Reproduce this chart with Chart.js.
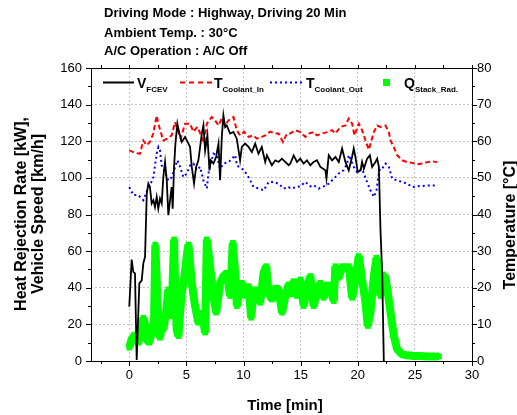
<!DOCTYPE html>
<html>
<head>
<meta charset="utf-8">
<script src="https://cdn.jsdelivr.net/npm/chart.js@4.4.1/dist/chart.umd.min.js"></script>
<style>
  body { margin: 0; background: #fff; }
  #wrap { position: relative; width: 517px; height: 415px; font-family: 'Liberation Sans', Arial, sans-serif; color: #000; }
  #wrap canvas { position: absolute; left: 0; top: 0; }
  .txt { position: absolute; white-space: nowrap; font-weight: bold; line-height: 1; }
  .head { font-size: 13px; left: 104px; }
  .leg { position: absolute; white-space: nowrap; font-weight: bold; line-height: 1; font-size: 14px; }
  .leg .sub { font-size: 8px; position: relative; top: 4px; }
  .rot { position: absolute; white-space: nowrap; font-weight: bold; font-size: 16px; text-align: center;
         line-height: 17px; transform: translate(-50%, -50%) rotate(-90deg); }
  #legSvg { position: absolute; left: 0; top: 0; }
</style>
</head>
<body>
<div id="wrap">
  <canvas id="chart" width="517" height="415"></canvas>

  <div class="txt head" style="top:6px">Driving Mode : Highway, Driving 20 Min</div>
  <div class="txt head" style="top:26px">Ambient Temp. : 30°C</div>
  <div class="txt head" style="top:44px">A/C Operation : A/C Off</div>

  <svg id="legSvg" width="517" height="415">
    <line x1="103" y1="82.5" x2="134" y2="82.5" stroke="#000" stroke-width="2"/>
    <line x1="180" y1="82.5" x2="212" y2="82.5" stroke="#ff0000" stroke-width="2" stroke-dasharray="5 4"/>
    <line x1="270" y1="82.5" x2="302" y2="82.5" stroke="#0000ff" stroke-width="2" stroke-dasharray="2 3"/>
    <rect x="383" y="79" width="7" height="7" fill="#00ff00"/>
  </svg>
  <div class="leg" style="left:137px; top:76px">V<span class="sub">FCEV</span></div>
  <div class="leg" style="left:214px; top:76px">T<span class="sub">Coolant_In</span></div>
  <div class="leg" style="left:306px; top:76px">T<span class="sub">Coolant_Out</span></div>
  <div class="leg" style="left:404px; top:76px">Q<span class="sub">Stack_Rad.</span></div>

  <div class="rot" style="left:29px; top:214px">Heat Rejection Rate [kW],<br>Vehicle Speed [km/h]</div>
  <div class="rot" style="left:509px; top:225px">Temperature [°C]</div>
  <div class="txt" style="left:285px; top:397px; font-size:15px; transform:translateX(-50%)">Time [min]</div>
</div>

<script>
// vehicle speed (km/h), left axis
const vTime = [
  0, 0.21, 0.35, 0.5, 0.65, 0.88, 1.09, 1.23, 1.38, 1.53,
  1.67, 1.81, 1.96, 2.11, 2.25, 2.4, 2.54, 2.69, 2.84, 2.98,
  3.13, 3.28, 3.42, 3.57, 3.71, 3.8, 3.92, 4.04, 4.21, 4.39,
  4.59, 4.88, 5.18, 5.32, 5.47, 5.67, 5.85, 6.05, 6.35, 6.49,
  6.64, 6.84, 7.02, 7.13, 7.37, 7.6, 7.81, 7.95, 8.1, 8.24,
  8.39, 8.53, 8.83, 9.12, 9.41, 9.7, 9.85, 10.14, 10.44, 10.73,
  11.02, 11.31, 11.6, 11.9, 12.05, 12.48, 12.78, 13.07, 13.36, 13.65,
  13.95, 14.1, 14.39, 14.68, 14.97, 15.26, 15.55, 15.85, 16.14, 16.43,
  16.73, 17.17, 17.26, 17.46, 17.75, 18.05, 18.34, 18.63, 18.92, 19.21,
  19.5, 19.65, 19.8, 20.0, 20.24, 20.38, 20.53, 20.82, 21.06, 21.26,
  21.55, 21.7, 21.85, 21.99, 22.14, 22.28
];
const vSpeed = [
  29.6, 55.4, 48.7, 47.8, 0.5, 42.4, 44, 53.3, 56.9, 91.4,
  96.9, 95, 86, 87.8, 84.1, 89.6, 83.2, 88.7, 86, 100.5,
  108.7, 98.7, 79.6, 87.8, 95, 83.2, 106, 118.7, 129.6, 124.2,
  119.6, 122.3, 118.7, 116.9, 106, 96.9, 106, 109.6, 124.2, 128.7,
  115, 123.2, 104.1, 109.6, 107.8, 111.4, 118.7, 98.7, 122.3, 134.1,
  127.8, 128.7, 124.2, 125.1, 121.4, 109.6, 116.9, 118.7, 116.9, 114.1,
  118.7, 113.2, 116.9, 108.7, 112.3, 106.9, 109.6, 108.7, 110.5, 108.7,
  106.9, 107.8, 112.3, 108.7, 110.5, 107.8, 109.6, 106.9, 108.7, 109.6,
  106, 104.1, 99.6, 112.3, 109.6, 111.4, 108.7, 116, 108.7, 104.1,
  111.4, 116, 111.4, 103.2, 104.1, 108.7, 105, 110.5, 112.3, 106,
  108.7, 110.5, 106, 71.4, 47.8, 0
];

// coolant inlet temperature (°C), right axis
const tInTime = [
  0, 0.5, 0.94, 1.23, 1.52, 1.81, 2.1, 2.4, 2.54, 2.75,
  2.98, 3.33, 3.71, 4.0, 4.21, 4.5, 4.88, 5.32, 5.61, 5.96,
  6.35, 6.55, 6.79, 7.22, 7.51, 7.81, 8.1, 8.39, 8.68, 9.12,
  9.41, 9.7, 10.05, 10.44, 10.87, 11.17, 11.6, 11.9, 12.34, 12.78,
  13.07, 13.45, 13.8, 14.09, 14.53, 14.97, 15.41, 15.7, 16.14, 16.43,
  16.87, 17.31, 17.75, 18.04, 18.48, 18.92, 19.21, 19.51, 19.71, 20.09,
  20.38, 20.68, 20.97, 21.41, 21.7, 21.99, 22.43, 22.72, 22.87, 23.16,
  23.45, 23.89, 24.33, 24.77, 25.21, 25.65, 26.09, 26.53, 26.96
];
const tIn = [
  57.5, 56.8, 56.6, 60.2, 58.9, 59.8, 62.1, 67, 64.8, 62.6,
  60.2, 60.7, 61.6, 65.2, 63.4, 60.7, 64.8, 64.8, 62.6, 63.9,
  61.2, 59.4, 64.8, 66.6, 65.7, 64.3, 66.2, 64.3, 65.7, 66.6,
  63, 61.6, 62.6, 61.2, 61.6, 60.7, 61.2, 61.6, 62.6, 62.1,
  62.1, 59.8, 62.1, 62.1, 63.0, 62.5, 61.2, 62.1, 62.5, 61.6,
  62.1, 62.5, 63.0, 62.1, 63.9, 64.3, 66.2, 64.8, 61.6, 64.8,
  63.0, 60.2, 57.7, 62.5, 64.3, 63.9, 64.3, 62.5, 60.2, 58.4,
  56.2, 54.8, 54.3, 54.1, 53.7, 53.9, 54.3, 54.5, 54.3
];

// coolant outlet temperature (°C), right axis
const tOutTime = [
  0, 0.35, 0.79, 1.23, 1.52, 1.82, 2.11, 2.25, 2.4, 2.55,
  2.69, 2.84, 3.13, 3.42, 3.72, 4.01, 4.21, 4.45, 4.74, 5.03,
  5.32, 5.62, 5.91, 6.2, 6.49, 6.79, 6.93, 7.08, 7.37, 7.66,
  7.95, 8.25, 8.69, 9.13, 9.27, 9.42, 9.86, 10.15, 10.44, 10.88,
  11.32, 11.76, 12.2, 12.63, 13.07, 13.51, 13.95, 14.09, 14.53, 14.97,
  15.41, 15.85, 16.14, 16.58, 17.02, 17.46, 17.9, 18.34, 18.77, 19.07,
  19.21, 19.42, 19.65, 19.95, 20.38, 20.76, 21.11, 21.41, 21.64, 21.79,
  21.93, 22.14, 22.43, 22.72, 23.01, 23.45, 23.89, 24.33, 24.77, 25.21,
  25.65, 26.09, 26.53, 26.96
];
const tOut = [
  47.5, 45.3, 45.3, 43.9, 46.2, 48.0, 50.2, 53.4, 56.6, 58.4,
  57.5, 53.4, 51.6, 49.3, 50.2, 53.0, 54.8, 53.0, 50.2, 51.2,
  53.4, 53.9, 52.1, 53.0, 49.3, 47.1, 51.2, 53.4, 56.6, 56.2,
  52.5, 53.9, 54.3, 55.7, 56.2, 53.4, 52.5, 51.6, 50.2, 47.5,
  47.1, 46.6, 48.9, 48.9, 48.4, 47.1, 47.5, 47.1, 47.4, 47.7,
  48.9, 47.7, 48.0, 47.1, 47.7, 48.4, 49.8, 51.2, 52.1, 53.9,
  56.2, 54.8, 53.0, 51.6, 52.5, 49.3, 46.6, 44.8, 46.6, 50.2,
  52.5, 52.5, 53.9, 53.0, 49.8, 49.3, 48.9, 48.4, 47.5, 47.7,
  47.8, 47.9, 47.9, 47.9
];

// stack radiator heat rejection (kW), left axis
const qTime = [
  0, 0.2, 0.5, 0.79, 1.08, 1.23, 1.37, 1.52, 1.75, 1.96,
  2.17, 2.28, 2.4, 2.51, 2.69, 2.84, 2.98, 3.22, 3.42, 3.57,
  3.72, 3.92, 4.04, 4.15, 4.3, 4.45, 4.59, 4.8, 5.03, 5.18,
  5.32, 5.47, 5.76, 6.05, 6.35, 6.64, 6.79, 6.93, 7.14, 7.37,
  7.6, 7.81, 7.95, 8.25, 8.54, 8.83, 9.06, 9.27, 9.42, 9.65,
  9.86, 10.15, 10.44, 10.67, 10.88, 11.17, 11.46, 11.76, 11.99, 12.19,
  12.49, 12.78, 13.07, 13.37, 13.66, 13.95, 14.09, 14.38, 14.68, 14.97,
  15.26, 15.56, 15.85, 16.14, 16.43, 16.73, 17.02, 17.31, 17.6, 17.9,
  18.04, 18.34, 18.63, 18.92, 19.21, 19.51, 19.8, 20.09, 20.38, 20.68,
  20.88, 21.11, 21.41, 21.64, 21.85, 21.99, 22.14, 22.43, 22.63, 22.87,
  23.16, 23.45, 23.89, 24.33, 24.91, 25.5, 26.09, 26.67, 27.11
];
const qStack = [
  7.3, 11.8, 14.5, 10, 17.3, 23.6, 20, 11.8, 10, 15.5,
  22.7, 63.6, 44.5, 17.3, 12.7, 19.1, 17.3, 26.4, 39.1, 24.5,
  28.2, 66.4, 35.5, 17.3, 13.6, 26.4, 37.3, 44.5, 57.3, 63.6,
  53.6, 42.7, 30, 20.9, 26.4, 15.5, 66.4, 59.1, 48.2, 35.5,
  26.4, 35.5, 42.7, 46.4, 48.2, 35.5, 64.5, 48.2, 30, 39.1,
  42.7, 35.5, 40.9, 23.6, 37.3, 39.1, 31.8, 48.2, 51.8, 37.3,
  33.6, 40, 39.1, 26.4, 35.5, 41.8, 36.4, 43.6, 35.5, 44.5,
  30, 40, 46.4, 30, 37.3, 42.7, 34.5, 41.8, 40, 32.7,
  51.8, 45.5, 51.8, 50, 51.8, 34.5, 44.5, 57.3, 44.5, 31.8,
  19.1, 26.4, 46.4, 56.4, 48.2, 35.5, 47.3, 45.5, 37.3, 26.4,
  13.6, 6.4, 3.6, 3.1, 2.7, 2.7, 2.5, 2.5, 2.5
];

const xTickValues = [0, 5, 10, 15, 20, 25, 30];
const fontFamily = "'Liberation Sans', Arial, sans-serif";

const toPoints = (xs, ys) => xs.map((x, i) => ({ x: x, y: ys[i] }));

// frame plus outward major/minor tick marks on all four sides
const frameTicks = {
  id: 'frameTicks',
  afterDatasetsDraw(chart) {
    const { ctx, chartArea: a, scales } = chart;
    const px = v => Math.round(v) + 0.5;
    ctx.save();
    ctx.strokeStyle = '#000';
    ctx.lineWidth = 1;
    ctx.strokeRect(px(a.left), px(a.top), Math.round(a.right - a.left), Math.round(a.bottom - a.top));
    ctx.beginPath();
    for (let t = -2.5; t <= 30; t += 2.5) {
      const x = px(scales.x.getPixelForValue(t));
      const len = t % 5 === 0 ? 5 : 3;
      ctx.moveTo(x, a.bottom);
      ctx.lineTo(x, a.bottom + len);
      ctx.moveTo(x, a.top);
      ctx.lineTo(x, a.top - 3);
    }
    for (let v = 0; v <= 160; v += 10) {
      const y = px(scales.y.getPixelForValue(v));
      const len = v % 20 === 0 ? 5 : 3;
      ctx.moveTo(a.left, y);
      ctx.lineTo(a.left - len, y);
    }
    for (let v = 0; v <= 80; v += 5) {
      const y = px(scales.y2.getPixelForValue(v));
      const len = v % 10 === 0 ? 5 : 3;
      ctx.moveTo(a.right, y);
      ctx.lineTo(a.right + len, y);
    }
    ctx.stroke();
    ctx.restore();
  }
};

const ctx = document.getElementById('chart').getContext('2d');
new Chart(ctx, {
  type: 'line',
  data: {
    datasets: [
      {
        label: 'V_FCEV',
        data: toPoints(vTime, vSpeed),
        yAxisID: 'y',
        borderColor: '#000000',
        borderWidth: 1.8,
        pointRadius: 0,
        order: 1
      },
      {
        label: 'T_Coolant_In',
        data: toPoints(tInTime, tIn),
        yAxisID: 'y2',
        borderColor: '#ff0000',
        borderWidth: 2,
        borderDash: [5, 3],
        pointRadius: 0,
        order: 2
      },
      {
        label: 'T_Coolant_Out',
        data: toPoints(tOutTime, tOut),
        yAxisID: 'y2',
        borderColor: '#0000ff',
        borderWidth: 2,
        borderDash: [2, 3],
        pointRadius: 0,
        order: 3
      },
      {
        // thick square-marker trace, as in the original scatter of dense samples
        label: 'Q_Stack_Rad.',
        data: toPoints(qTime, qStack),
        yAxisID: 'y',
        borderColor: '#00ff00',
        backgroundColor: '#00ff00',
        borderWidth: 8,
        borderJoinStyle: 'bevel',
        pointStyle: 'rect',
        pointRadius: 4,
        pointBorderWidth: 0,
        order: 4
      }
    ]
  },
  options: {
    responsive: false,
    animation: false,
    devicePixelRatio: 1,
    layout: { padding: { top: 68, left: 0, right: 0, bottom: 0 } },
    elements: { line: { tension: 0 } },
    plugins: {
      legend: { display: false },
      tooltip: { enabled: false }
    },
    scales: {
      x: {
        type: 'linear',
        position: 'bottom',
        min: -3.35,
        max: 30,
        afterBuildTicks: scale => { scale.ticks = xTickValues.map(v => ({ value: v })); },
        afterFit: scale => { scale.height = 54; },
        grid: {
          drawTicks: false,
          color: c => (c.tick && c.tick.value < 30) ? '#c4c4c4' : 'rgba(0,0,0,0)'
        },
        border: { display: false, dash: [2, 2] },
        ticks: { padding: 7, color: '#000', font: { family: fontFamily, size: 13 } }
      },
      y: {
        position: 'left',
        min: 0,
        max: 160,
        ticks: { stepSize: 20, padding: 9, color: '#000', font: { family: fontFamily, size: 13 } },
        afterFit: scale => { scale.width = 91; },
        grid: {
          drawTicks: false,
          color: c => (c.tick && c.tick.value > 0 && c.tick.value < 160) ? '#c4c4c4' : 'rgba(0,0,0,0)'
        },
        border: { display: false, dash: [2, 2] }
      },
      y2: {
        position: 'right',
        min: 0,
        max: 80,
        ticks: { stepSize: 10, padding: 5, color: '#000', font: { family: fontFamily, size: 13 } },
        afterFit: scale => { scale.width = 45; },
        grid: { drawOnChartArea: false, drawTicks: false },
        border: { display: false }
      }
    }
  },
  plugins: [frameTicks]
});
</script>
</body>
</html>
